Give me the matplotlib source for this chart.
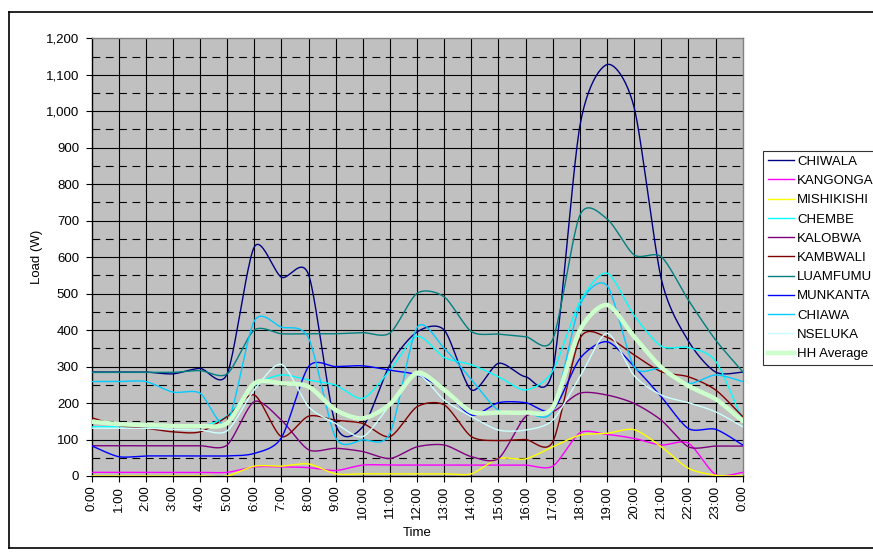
import numpy as np
import matplotlib
matplotlib.use("Agg")
import matplotlib.pyplot as plt
from matplotlib.ticker import FuncFormatter, MultipleLocator
from matplotlib.lines import Line2D

plt.rcParams['font.family'] = ['Liberation Sans', 'DejaVu Sans']

hours = list(range(25))
tick_labels = [f"{h % 24}:00" for h in hours]

series_names = ["CHIWALA", "KANGONGA", "MISHIKISHI", "CHEMBE", "KALOBWA",
                "KAMBWALI", "LUAMFUMU", "MUNKANTA", "CHIAWA", "NSELUKA", "HH Average"]

chiwala    = [285, 285, 285, 280, 295, 280, 628, 545, 552, 140, 135, 305, 395, 400, 236, 309, 272, 290, 960, 1128, 1010, 540, 370, 285, 285]
kangonga   = [10, 10, 10, 10, 10, 10, 25, 25, 23, 15, 30, 30, 30, 30, 30, 30, 30, 27, 118, 114, 103, 85, 90, 4, 10]
mishikishi = [0, 0, 0, 0, 0, 0, 27, 27, 33, 6, 6, 6, 6, 6, 6, 48, 47, 80, 112, 117, 127, 80, 21, 2, 0]
chembe     = [135, 135, 135, 135, 135, 165, 248, 277, 263, 249, 213, 290, 383, 325, 305, 272, 236, 288, 478, 556, 440, 356, 352, 315, 152]
kalobwa    = [83, 83, 83, 83, 83, 85, 204, 153, 72, 76, 67, 48, 80, 85, 53, 48, 163, 176, 227, 222, 199, 153, 80, 82, 82]
kambwali   = [160, 138, 131, 121, 121, 163, 222, 108, 164, 153, 144, 108, 190, 195, 108, 97, 100, 94, 377, 380, 332, 286, 272, 236, 163]
luamfumu   = [284, 284, 284, 284, 289, 280, 400, 390, 390, 390, 393, 392, 501, 491, 396, 389, 382, 375, 715, 705, 606, 601, 482, 373, 286]
munkanta   = [83, 53, 55, 55, 55, 55, 62, 105, 300, 300, 302, 290, 277, 236, 167, 201, 201, 181, 322, 368, 300, 217, 130, 128, 85]
chiawa     = [259, 259, 259, 230, 227, 145, 425, 408, 378, 105, 99, 117, 407, 350, 265, 180, 175, 180, 468, 522, 300, 295, 254, 277, 259]
nseluka    = [131, 131, 131, 128, 126, 124, 236, 306, 190, 144, 108, 195, 277, 208, 163, 126, 126, 153, 272, 391, 275, 222, 201, 176, 135]
hh_average = [149, 142, 140, 137, 137, 145, 254, 254, 245, 181, 158, 197, 283, 236, 176, 174, 174, 188, 400, 469, 382, 298, 247, 211, 151]

series_values = [chiwala, kangonga, mishikishi, chembe, kalobwa, kambwali,
                 luamfumu, munkanta, chiawa, nseluka, hh_average]
colors = ["#000080", "#FF00FF", "#FFFF00", "#00FFFF", "#800080", "#800000",
          "#008080", "#0000FF", "#00CCFF", "#CCFFFF", "#CCFFCC"]


def smooth(x, y, n=24, k=0.8):
    """Cardinal-spline smoothing through the data points (like Excel's smoothed line)."""
    x = np.asarray(x, float)
    y = np.asarray(y, float)
    xs, ys = [], []
    t = np.linspace(0, 1, n, endpoint=False)
    h00 = 2 * t**3 - 3 * t**2 + 1
    h10 = t**3 - 2 * t**2 + t
    h01 = -2 * t**3 + 3 * t**2
    h11 = t**3 - t**2
    npts = len(x)

    def tang(arr, i):
        a = arr[max(i - 1, 0)]
        b = arr[min(i + 1, npts - 1)]
        return k * (b - a) / 2.0

    for i in range(npts - 1):
        for arr, out in ((x, xs), (y, ys)):
            m0, m1 = tang(arr, i), tang(arr, i + 1)
            out.extend(h00 * arr[i] + h10 * m0 + h01 * arr[i + 1] + h11 * m1)
    xs.append(x[-1])
    ys.append(y[-1])
    return np.array(xs), np.array(ys)


W, H = 873, 554
fig = plt.figure(figsize=(W / 100, H / 100), dpi=100)
ax = fig.add_axes([91.5 / W, 1 - 476 / H, (742.7 - 91.5) / W, (476 - 38.3) / H])
ax.set_facecolor("#C0C0C0")

ax.set_xlim(0, 24)
ax.set_ylim(0, 1200)

# gridlines
for v in range(100, 1200, 100):
    ax.axhline(v, color="black", lw=0.8, zorder=1)
for v in range(50, 1200, 100):
    ax.axhline(v, color="black", lw=0.8, ls=(0, (7, 5)), zorder=1)
for h in range(1, 24):
    ax.axvline(h, color="black", lw=0.8, zorder=1)

handles = []
for name, vals, c in zip(series_names, series_values, colors):
    lw = 3.2 if name == "HH Average" else 1.0
    xs, ys = smooth(hours, vals)
    ax.plot(xs, ys, color=c, lw=lw, zorder=3, solid_capstyle="round")
    handles.append(Line2D([0], [0], color=c, lw=lw))

ax.set_xticks(hours)
ax.set_xticklabels(tick_labels, rotation=90, fontsize=9.5)
ax.yaxis.set_major_locator(MultipleLocator(100))
ax.yaxis.set_major_formatter(FuncFormatter(lambda v, p: f"{v:,.0f}"))
ax.tick_params(axis="y", labelsize=9.5, length=4, width=0.8, pad=5)
ax.tick_params(axis="x", length=4, width=0.8, pad=3)

for s in ax.spines.values():
    s.set_color("#808080")
    s.set_linewidth(1.0)
ax.spines["bottom"].set_color("black")
ax.spines["left"].set_color("black")

ax.set_xlabel("Time", fontsize=9.5, labelpad=6)
ax.set_ylabel("Load (W)", fontsize=9.5, labelpad=2)

leg = fig.legend(handles, series_names, loc="upper left",
                 bbox_to_anchor=(763 / W, 1 - 151 / H), fontsize=9.5,
                 frameon=True, fancybox=False, borderpad=0.35,
                 handlelength=2.0, handletextpad=0.25, labelspacing=0.53,
                 borderaxespad=0)
leg.get_frame().set_edgecolor("black")
leg.get_frame().set_linewidth(0.8)

# chart-area border
fig.add_artist(Line2D([9 / W, 9 / W], [1 - 12 / H, 1 - 548 / H], transform=fig.transFigure, color="black", lw=1.2))
fig.add_artist(Line2D([9 / W, 1.0], [1 - 12 / H, 1 - 12 / H], transform=fig.transFigure, color="black", lw=1.2))
fig.add_artist(Line2D([9 / W, 1.0], [1 - 548 / H, 1 - 548 / H], transform=fig.transFigure, color="black", lw=1.2))

fig.savefig("out.png", dpi=100)
